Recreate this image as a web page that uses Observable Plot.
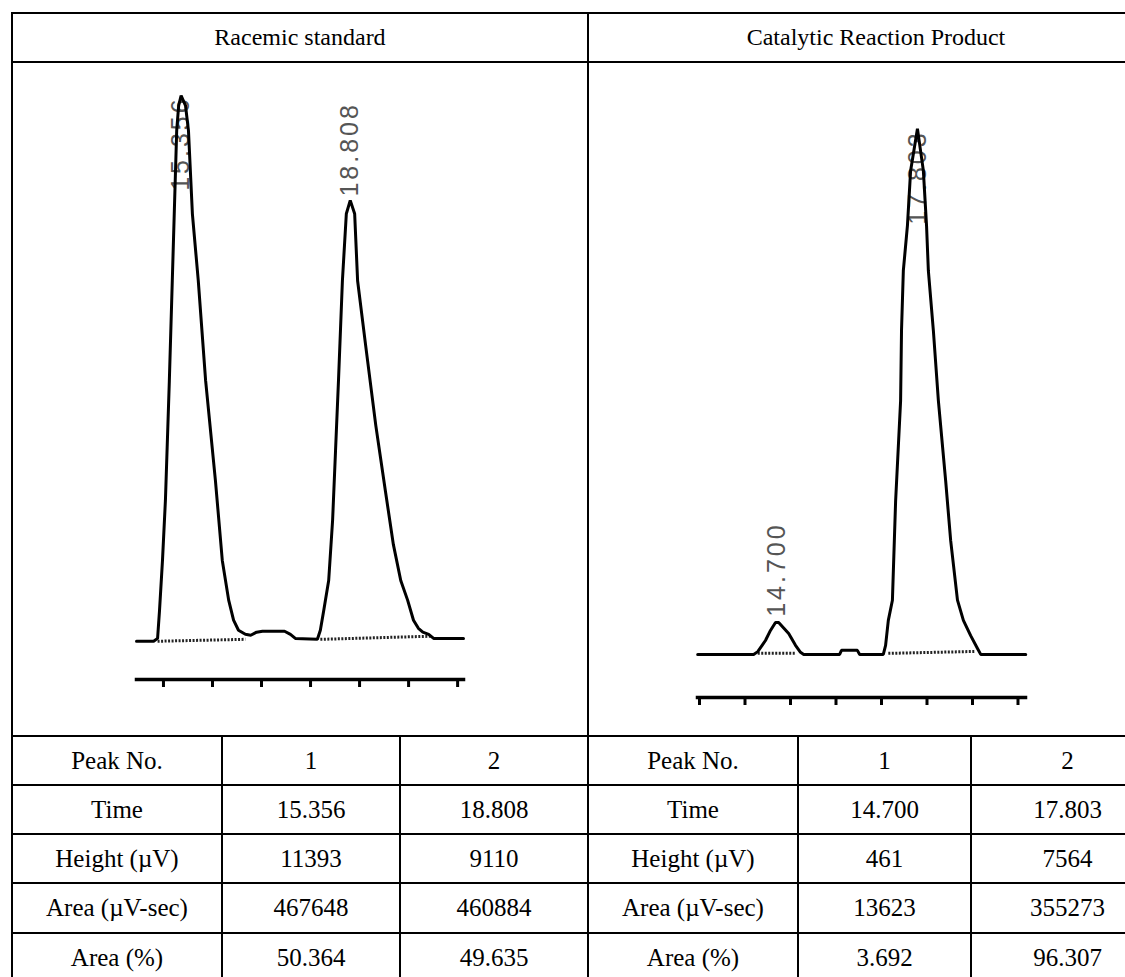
<!DOCTYPE html>
<html>
<head>
<meta charset="utf-8">
<script src="https://cdn.jsdelivr.net/npm/d3@7"></script>
<script src="https://cdn.jsdelivr.net/npm/@observablehq/plot@0.6"></script>
<style>
  html, body { margin: 0; padding: 0; background: #fff; }
  #root { position: relative; width: 1125px; height: 977px; overflow: hidden; background: #fff; }
  .hl { position: absolute; height: 2px; background: #000; }
  .vl { position: absolute; width: 2px; background: #000; }
  .cell { position: absolute; display: flex; align-items: center; justify-content: center;
          font-family: "Liberation Serif", "Times New Roman", serif; font-size: 25px; color: #000; white-space: nowrap; }
  .head { font-size: 24px; }
  .chart { position: absolute; }
  .chart text.peaklabel, .chart g.peaklabel text { letter-spacing: 3px; }
</style>
</head>
<body>
<div id="root"></div>
<script>
// ---------- data ----------
const panelTitles = ["Racemic standard", "Catalytic Reaction Product"];

// Racemic standard trace (time in min, signal in µV)
const racemicTime = [14.45, 14.80, 14.88, 14.92, 14.98, 15.04, 15.12, 15.18, 15.22, 15.27, 15.31, 15.36, 15.45, 15.51, 15.59, 15.71, 15.86, 16.06, 16.20, 16.33, 16.43, 16.53, 16.67, 16.78, 16.90, 17.02, 17.47, 17.59, 17.69, 18.14, 18.20, 18.27, 18.37, 18.45, 18.51, 18.57, 18.65, 18.73, 18.81, 18.90, 18.96, 19.12, 19.33, 19.53, 19.69, 19.84, 19.98, 20.10, 20.20, 20.29, 20.41, 20.51, 21.12];
const racemicSignal = [-20, -20, 40, 630, 1670, 2930, 5430, 7520, 8920, 10660, 11180, 11390, 11180, 10660, 8920, 7520, 5430, 3340, 1670, 840, 420, 210, 125, 105, 170, 190, 190, 125, 40, 20, 210, 630, 1250, 2510, 3970, 5430, 7520, 8920, 9200, 8920, 7520, 6200, 4500, 3100, 2000, 1250, 840, 420, 250, 170, 125, 40, 40];
const racemicTicks = [15, 16, 17, 18, 19, 20, 21];
const racemicPeakTimes = [15.356, 18.808];
const racemicPeakLabels = ["15.356", "18.808"];
const racemicLabelSignal = [9400, 9280];
// integration baselines [start time, start signal, end time, end signal]
const racemicBaseStartT = [14.88, 18.20];
const racemicBaseStartV = [-20, 20];
const racemicBaseEndT = [16.67, 20.45];
const racemicBaseEndV = [20, 85];

// Catalytic reaction product trace
const productTime = [12.96, 14.19, 14.28, 14.45, 14.56, 14.67, 14.74, 14.96, 15.11, 15.22, 15.29, 16.08, 16.12, 16.47, 16.52, 17.04, 17.09, 17.15, 17.24, 17.31, 17.42, 17.44, 17.48, 17.57, 17.64, 17.79, 17.92, 17.99, 18.03, 18.14, 18.25, 18.41, 18.52, 18.67, 18.80, 18.96, 19.11, 19.18, 20.17];
const productSignal = [0, 0, 40, 200, 345, 460, 460, 300, 130, 30, 0, 0, 58, 58, 0, 0, 130, 490, 780, 2200, 3650, 4660, 5520, 6170, 6960, 7564, 6960, 6170, 5520, 4660, 3650, 2500, 1640, 780, 490, 270, 86, 0, 0];
const productTicks = [13, 14, 15, 16, 17, 18, 19, 20];
const productPeakTimes = [14.700, 17.803];
const productPeakLabels = ["14.700", "17.803"];
const productLabelSignal = [540, 6180];
const productBaseStartT = [14.28, 17.15];
const productBaseStartV = [15, 15];
const productBaseEndT = [15.11, 19.07];
const productBaseEndV = [15, 43];

// results table
const rowLabels = ["Peak No.", "Time", "Height (µV)", "Area (µV-sec)", "Area (%)"];
const racemicPeak1 = ["1", "15.356", "11393", "467648", "50.364"];
const racemicPeak2 = ["2", "18.808", "9110", "460884", "49.635"];
const productPeak1 = ["1", "14.700", "461", "13623", "3.692"];
const productPeak2 = ["2", "17.803", "7564", "355273", "96.307"];

// ---------- layout ----------
const root = document.getElementById("root");
function hline(x, y, w) { const d = document.createElement("div"); d.className = "hl"; d.style.left = x + "px"; d.style.top = (y - 1) + "px"; d.style.width = w + "px"; root.appendChild(d); }
function vline(x, y, h) { const d = document.createElement("div"); d.className = "vl"; d.style.left = (x - 1) + "px"; d.style.top = y + "px"; d.style.height = h + "px"; root.appendChild(d); }
function cell(x0, x1, y0, y1, text, cls) { const d = document.createElement("div"); d.className = "cell" + (cls ? " " + cls : ""); d.style.left = x0 + "px"; d.style.width = (x1 - x0) + "px"; d.style.top = y0 + "px"; d.style.height = (y1 - y0) + "px"; d.textContent = text; root.appendChild(d); }

const tableLeft = 12, tableRight = 1164, mid = 588;
const rowY = [736, 785, 834, 883, 933, 982];
const colX = [12, 222, 400, 588, 798, 971, 1164];

[13, 62, ...rowY].forEach(y => hline(tableLeft - 1, y, tableRight - tableLeft + 2));
vline(tableLeft, 12, 972);
vline(mid, 12, 972);
[colX[1], colX[2], colX[4], colX[5]].forEach(x => vline(x, 736, 248));

cell(tableLeft, mid, 13, 62, panelTitles[0], "head");
cell(mid, tableRight, 13, 62, panelTitles[1], "head");

rowLabels.forEach((lab, i) => {
  const y0 = rowY[i], y1 = rowY[i + 1];
  cell(colX[0], colX[1], y0, y1, lab);
  cell(colX[1], colX[2], y0, y1, racemicPeak1[i]);
  cell(colX[2], colX[3], y0, y1, racemicPeak2[i]);
  cell(colX[3], colX[4], y0, y1, lab);
  cell(colX[4], colX[5], y0, y1, productPeak1[i]);
  cell(colX[5], colX[6], y0, y1, productPeak2[i]);
});

// ---------- charts ----------
function chromatogram({time, signal, ticks, peakTimes, peakLabels, labelSignal, bs, xDomain, yDomain, width, height, margins}) {
  const trace = time.map((t, i) => ({t, v: signal[i]}));
  const labels = peakTimes.map((t, i) => ({t, v: labelSignal[i], text: peakLabels[i]}));
  const baseSegs = bs.st.map((t, i) => ({x1: t, y1: bs.sv[i], x2: bs.et[i], y2: bs.ev[i]}));
  const svg = Plot.plot({
    width, height,
    marginTop: margins[0], marginRight: margins[1], marginBottom: margins[2], marginLeft: margins[3],
    x: {domain: xDomain},
    y: {domain: yDomain, axis: null},
    style: {background: "transparent", overflow: "visible"},
    marks: [
      Plot.text(labels, {x: "t", y: "v", text: "text", rotate: -90, textAnchor: "start",
        fontSize: 25, fill: "#555", fontFamily: "Liberation Sans, Arial, sans-serif", className: "peaklabel"}),
      Plot.link(baseSegs, {x1: "x1", y1: "y1", x2: "x2", y2: "y2", stroke: "#222", strokeWidth: 3, strokeDasharray: "2,1.5"}),
      Plot.line(trace, {x: "t", y: "v", stroke: "#000", strokeWidth: 3, strokeLinejoin: "miter"}),
      Plot.frame({anchor: "bottom", stroke: "#000", strokeWidth: 3.5}),
      Plot.axisX({ticks, tickSize: 8, tickFormat: () => "", strokeWidth: 3, stroke: "#000", label: null})
    ]
  });
  return svg;
}

const left = chromatogram({
  time: racemicTime, signal: racemicSignal, ticks: racemicTicks,
  peakTimes: racemicPeakTimes, peakLabels: racemicPeakLabels, labelSignal: racemicLabelSignal,
  bs: {st: racemicBaseStartT, sv: racemicBaseStartV, et: racemicBaseEndT, ev: racemicBaseEndV},
  xDomain: [14.45, 21.12], yDomain: [-820, 12000],
  width: 360, height: 637, margins: [4, 17, 20, 16]
});
left.classList.add("chart");
left.style.left = "120px"; left.style.top = "62px";
root.appendChild(left);

const right = chromatogram({
  time: productTime, signal: productSignal, ticks: productTicks,
  peakTimes: productPeakTimes, peakLabels: productPeakLabels, labelSignal: productLabelSignal,
  bs: {st: productBaseStartT, sv: productBaseStartV, et: productBaseEndT, ev: productBaseEndV},
  xDomain: [12.956, 20.165], yDomain: [-620, 8300],
  width: 360, height: 655, margins: [15, 15, 20, 17]
});
right.classList.add("chart");
right.style.left = "680px"; right.style.top = "62px";
root.appendChild(right);

// widen the peak-label lettering like the instrument printout
document.querySelectorAll(".chart .peaklabel text, .chart text.peaklabel").forEach(t => t.setAttribute("letter-spacing", "3"));
</script>
</body>
</html>
